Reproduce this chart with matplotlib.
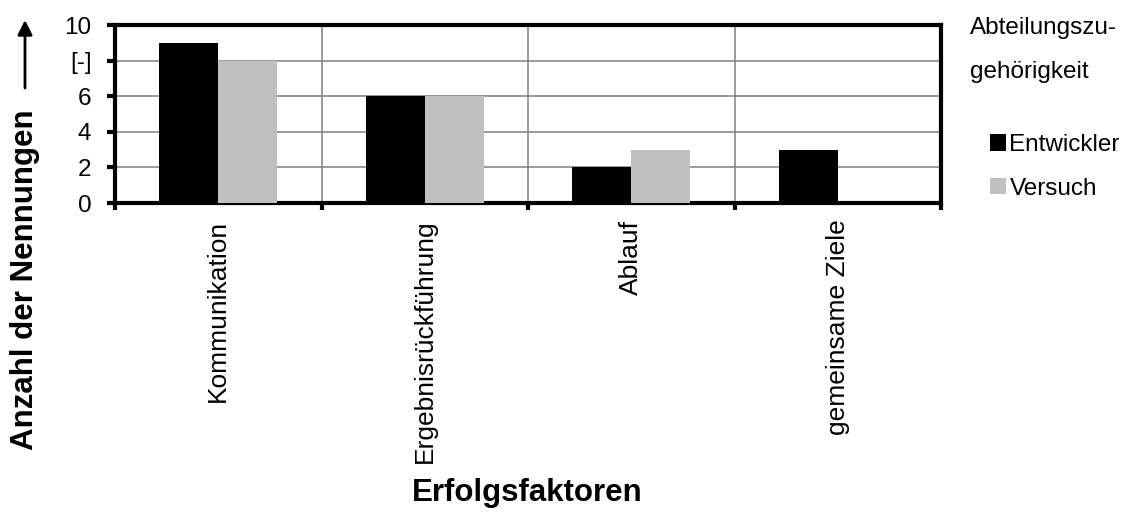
import numpy as np
import matplotlib
matplotlib.use("Agg")
import matplotlib.pyplot as plt

plt.rcParams['font.family'] = ['Liberation Sans', 'DejaVu Sans']

categories = ["Kommunikation", "Ergebnisrückführung", "Ablauf", "gemeinsame Ziele"]
entwickler = [9, 6, 2, 3]
versuch = [8, 6, 3, 0]
series_labels = ["Entwickler", "Versuch"]
y_ticks = [0, 2, 4, 6, 8, 10]
y_ticklabels = ["0", "2", "4", "6", "[-]", "10"]

W, H, DPI = 1135, 518, 100
fig = plt.figure(figsize=(W / DPI, H / DPI), dpi=DPI)
ax = fig.add_axes([115 / W, 1 - 203 / H, (941 - 115) / W, (203 - 25) / H])

x = np.arange(len(categories))
bw = 0.286
b1 = ax.bar(x - bw / 2, entwickler, bw, color="black", label=series_labels[0], zorder=3)
b2 = ax.bar(x + bw / 2, versuch, bw, color="#c0c0c0", label=series_labels[1], zorder=3)

ax.set_xlim(-0.5, len(categories) - 0.5)
ax.set_ylim(0, 10)

ax.set_yticks(y_ticks)
ax.set_yticklabels(y_ticklabels, fontsize=17.5)
ax.tick_params(axis="y", direction="out", length=6, width=3, pad=11)

ax.set_xticks(x)
ax.set_xticklabels(categories, rotation=90, fontsize=19, va="top", ha="center")
ax.tick_params(axis="x", which="major", length=0, pad=12)
ax.set_xticks(np.arange(-0.5, len(categories)), minor=True)
ax.tick_params(axis="x", which="minor", direction="out", length=5, width=3)

ax.set_axisbelow(True)
ax.grid(axis="y", which="major", color="#808080", lw=1.1)
ax.grid(axis="x", which="minor", color="#808080", lw=1.1)

for side in ["left", "bottom", "right", "top"]:
    ax.spines[side].set_linewidth(3)
    ax.spines[side].set_color("black")

# Axis titles
fig.text(25 / W, 1 - 280 / H, "Anzahl der Nennungen", rotation=90, fontsize=22.5,
         fontweight="bold", ha="center", va="center")
ax.annotate("", xy=(25, H - 20), xytext=(25, H - 88), xycoords="figure pixels",
            textcoords="figure pixels",
            arrowprops=dict(arrowstyle="-|>", lw=2, color="black", mutation_scale=22,
                            shrinkA=0, shrinkB=0))
fig.text(527 / W, 1 - 493 / H, "Erfolgsfaktoren", fontsize=22.5, fontweight="bold",
         ha="center", va="center")

# Legend with its two-line title
fig.text(970 / W, 1 - 28 / H, "Abteilungszu-", fontsize=17.5, ha="left", va="center")
fig.text(970 / W, 1 - 72 / H, "gehörigkeit", fontsize=17.5, ha="left", va="center")
fig.legend(handles=[b1, b2], labels=series_labels, loc="upper left",
           bbox_to_anchor=(990 / W, 1 - 134 / H), frameon=False, fontsize=17.5,
           handlelength=0.65, handleheight=0.65, handletextpad=0.15,
           labelspacing=0.9, borderpad=0, borderaxespad=0)

fig.savefig("out.png", dpi=DPI)
